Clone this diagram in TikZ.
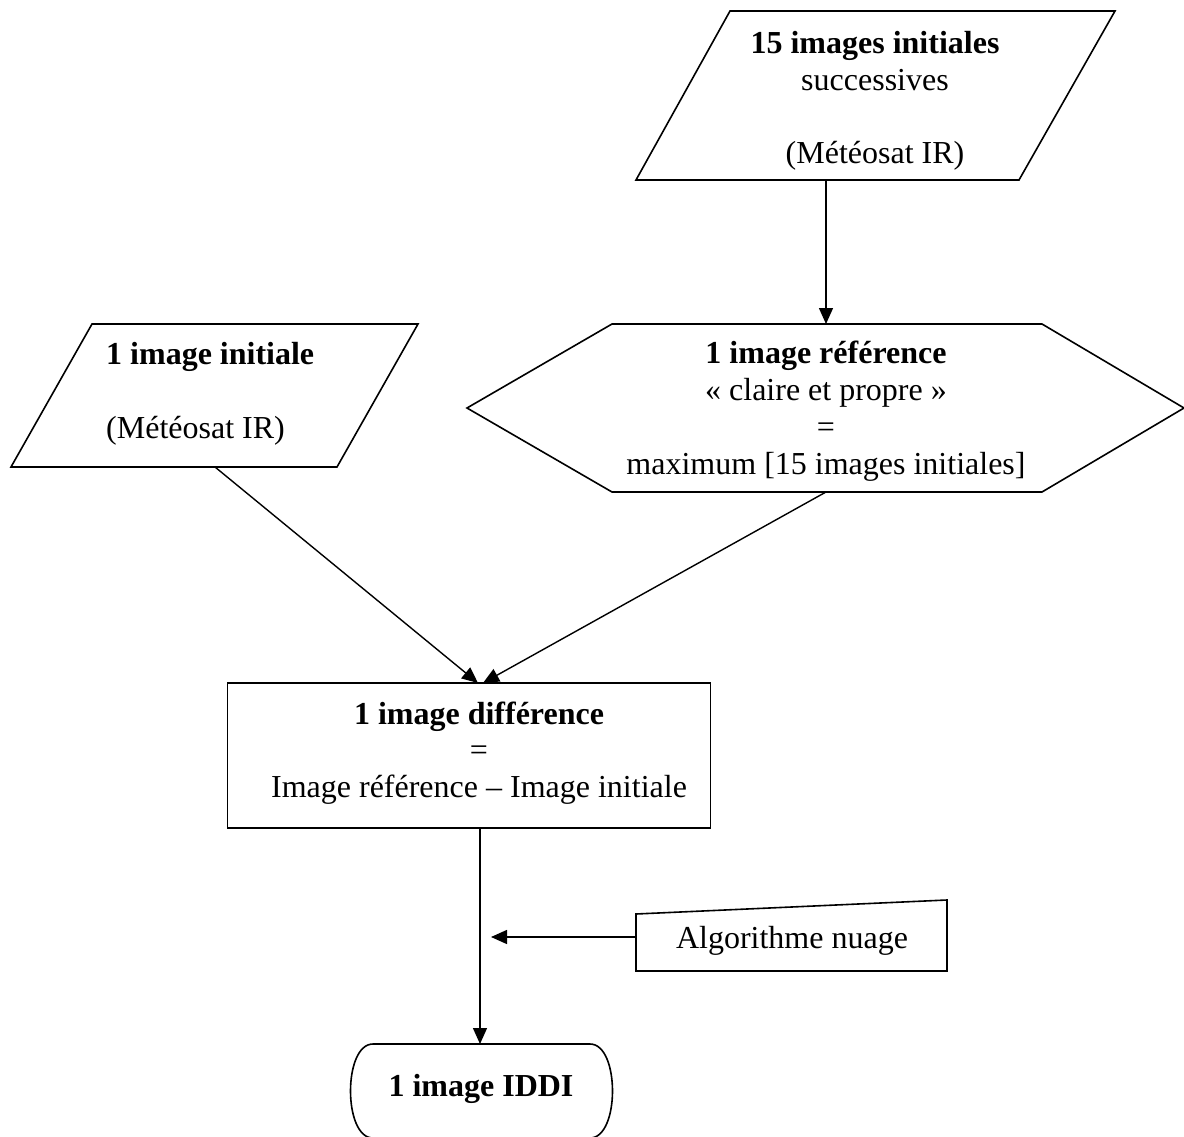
\documentclass[tikz,border=0pt]{standalone}
\usepackage{fontspec}
\setmainfont{Liberation Serif}
\usetikzlibrary{arrows.meta}
\begin{document}
\begin{tikzpicture}[x=1pt,y=-1pt,
  shapeline/.style={draw=black,line width=1.6pt,line join=miter},
  conn/.style={draw=black,line width=1.4pt,-{Triangle[length=16pt,width=14pt]}},
  txt/.style={font=\fontsize{32}{36.8}\selectfont,inner sep=0pt,align=center},
  txtl/.style={font=\fontsize{32}{36.8}\selectfont,inner sep=0pt,align=left,anchor=west}]
\useasboundingbox (0,0) rectangle (1184,1137);
\clip (0,0) rectangle (1184,1137);

% top parallelogram
\draw[shapeline] (730,11) -- (1115,11) -- (1019,180) -- (636,180) -- cycle;
\node[txt] (t15) at (875,101) {\textbf{15 images initiales}\\successives\\\strut\\(Météosat IR)};
\coordinate (t15b) at (826,180);

% left parallelogram
\draw[shapeline] (92,324) -- (418,324) -- (337,467) -- (11,467) -- cycle;
\node[txtl] (init) at (106,394) {\textbf{1 image initiale}\\\strut\\(Météosat IR)};
\coordinate (initb) at (215,467);

% hexagon
\draw[shapeline] (467,408) -- (612,324) -- (1042,324) -- (1184,408) -- (1042,492) -- (612,492) -- cycle;
\node[txt] (ref) at (826,411) {\textbf{1 image référence}\\« claire et propre »\\=\\maximum [15 images initiales]};
\coordinate (reft) at (826,324);
\coordinate (refb) at (826,492);

% difference rectangle
\node[draw=black,line width=1.6pt,minimum width=483pt,minimum height=145pt,inner sep=0pt] (diff) at (469,755.5) {};
\node[txt] (difft) at (479,753) {\textbf{1 image différence}\\=\\Image référence – Image initiale};
\coordinate (diffin1) at (478,683);
\coordinate (diffin2) at (483,683);

% algorithme nuage (manual input)
\draw[shapeline] (636,971) -- (636,914) -- (947,900) -- (947,971) -- cycle;
\node[txt] (algo) at (792,941) {Algorithme nuage};
\coordinate (algol) at (636,937);
\coordinate (mid) at (491,937);

% terminal
\draw[shapeline] (373,1044) -- (590,1044) .. controls (620,1044) and (620,1138) .. (590,1138)
  -- (373,1138) .. controls (343,1138) and (343,1044) .. (373,1044) -- cycle;
\node[txt] (iddi) at (481,1089) {\textbf{1 image IDDI}};
\coordinate (iddit) at (480,1044);

% connectors
\draw[conn] (t15b) -- (reft);
\draw[conn] (initb) -- (diffin1);
\draw[conn] (refb) -- (diffin2);
\draw[conn] (diff.south -| iddit) -- (iddit);
\draw[conn] (algol) -- (mid);
\end{tikzpicture}
\end{document}
